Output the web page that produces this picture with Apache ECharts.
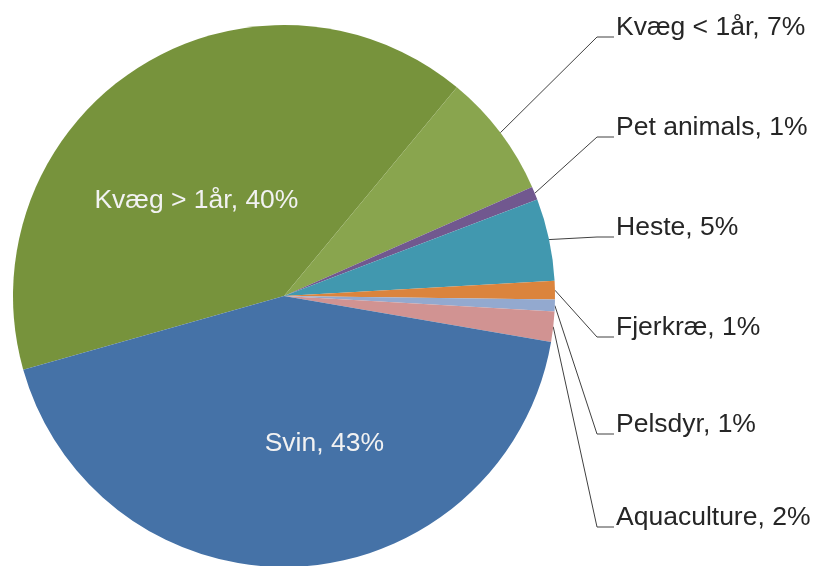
<!DOCTYPE html>
<html>
<head>
<meta charset="utf-8">
<script src="https://cdn.jsdelivr.net/npm/echarts@6/dist/echarts.min.js"></script>
<style>
  html, body { margin: 0; padding: 0; background: #fff; }
  #chart1 { width: 821px; height: 566px; }
</style>
</head>
<body>
<div id="chart1"></div>
<script>
// shares of the total
var categories = ["Kvæg > 1år", "Kvæg < 1år", "Pet animals", "Heste", "Fjerkræ", "Pelsdyr", "Aquaculture", "Svin"];
var shares = [40.4, 7.4, 0.8, 4.9, 1.1, 0.7, 1.8, 42.9];
var sliceColors = ["#77933C", "#89A54E", "#71588F", "#4198AF", "#DB843D", "#93A9CF", "#D19392", "#4572A7"];

// label placement (Excel style: big slices labelled inside, small ones in a column on the right)
var insideOffsets = { 0: [-12, 21], 7: [33, 9] };
var labelColumnX = 616;
var labelBaselines = { 1: 37, 2: 137, 3: 237, 4: 337, 5: 434, 6: 527 };

function buildData() {
  var data = [];
  for (var i = 0; i < categories.length; i++) {
    var item = {
      name: categories[i],
      value: shares[i],
      itemStyle: { color: sliceColors[i] },
    };
    if (insideOffsets[i]) {
      item.label = {
        position: "inside",
        color: "#F2F2F2",
        offset: insideOffsets[i],
      };
      item.labelLine = { show: false };
    }
    data.push(item);
  }
  return data;
}

var chartDom = document.getElementById("chart1");
var myChart = echarts.init(chartDom);
var option = {
  animation: false,
  series: [
    {
      type: "pie",
      center: [284, 296],
      radius: [0, 271],
      startAngle: 195.8,
      clockwise: true,
      avoidLabelOverlap: false,
      emphasis: { disabled: true },
      label: {
        show: true,
        fontFamily: "Liberation Sans, Arial, sans-serif",
        fontSize: 26.5,
        lineHeight: 26,
        color: "#262626",
        formatter: function (p) {
          return p.name + ", " + Math.round(p.percent) + "%";
        },
      },
      labelLine: {
        show: true,
        lineStyle: { color: "#404040", width: 1 },
      },
      labelLayout: function (params) {
        var base = labelBaselines[params.dataIndex];
        if (base === undefined) return {};
        var pts = params.labelLinePoints;
        var start = pts ? pts[0] : [0, 0];
        return {
          x: labelColumnX,
          y: base - 9,
          align: "left",
          verticalAlign: "middle",
          labelLinePoints: [start, [labelColumnX - 19, base], [labelColumnX - 2, base]],
        };
      },
      data: buildData(),
    },
  ],
};
option && myChart.setOption(option);
</script>
</body>
</html>
